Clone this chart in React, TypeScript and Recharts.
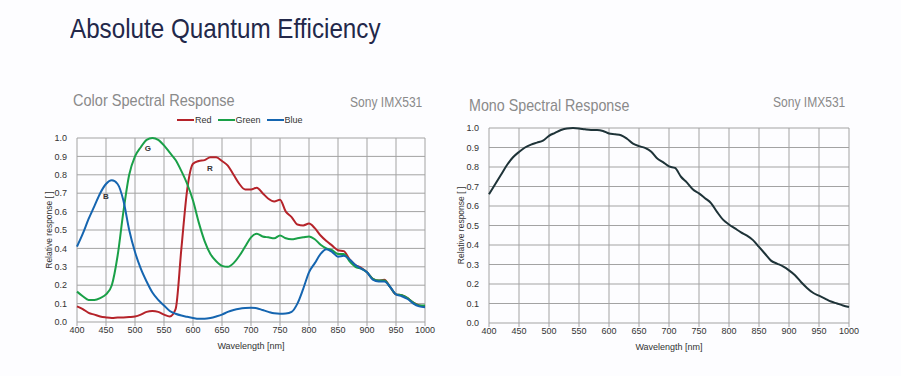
import { LineChart, Line, XAxis, YAxis, CartesianGrid, ReferenceDot } from "recharts";

// wavelength grid (nm)
const wavelengths = [
  400, 410, 420, 430, 440, 450, 460, 470, 480, 490,
  500, 510, 520, 530, 540, 550, 560, 570, 580, 590,
  600, 610, 620, 630, 640, 650, 660, 670, 680, 690,
  700, 710, 720, 730, 740, 750, 760, 770, 780, 790,
  800, 810, 820, 830, 840, 850, 860, 870, 880, 890,
  900, 910, 920, 930, 940, 950, 960, 970, 980, 990, 1000,
];

const redResponse = [
  0.085, 0.07, 0.05, 0.04, 0.03, 0.025, 0.022, 0.024, 0.025, 0.027,
  0.03, 0.04, 0.055, 0.06, 0.055, 0.04, 0.03, 0.07, 0.4, 0.72,
  0.86, 0.875, 0.88, 0.895, 0.895, 0.875, 0.85, 0.8, 0.75, 0.72,
  0.72, 0.73, 0.7, 0.67, 0.655, 0.665, 0.6, 0.57, 0.53, 0.525,
  0.535, 0.51, 0.47, 0.44, 0.415, 0.39, 0.385, 0.34, 0.31, 0.295,
  0.27, 0.235, 0.225, 0.23, 0.19, 0.15, 0.145, 0.13, 0.105, 0.09, 0.085,
];

const greenResponse = [
  0.165, 0.14, 0.12, 0.12, 0.13, 0.15, 0.2, 0.36, 0.6, 0.8,
  0.9, 0.95, 0.99, 1.0, 0.99, 0.96, 0.92, 0.88, 0.82, 0.75,
  0.66, 0.54, 0.44, 0.37, 0.33, 0.305, 0.3, 0.32, 0.36, 0.41,
  0.46, 0.48, 0.465, 0.46, 0.455, 0.47, 0.455, 0.45, 0.455, 0.46,
  0.465, 0.45, 0.42, 0.4, 0.39, 0.37, 0.37, 0.33, 0.3, 0.29,
  0.27, 0.235, 0.225, 0.225, 0.19, 0.15, 0.145, 0.13, 0.105, 0.09, 0.09,
];

const blueResponse = [
  0.41, 0.48, 0.56, 0.63, 0.7, 0.75, 0.77, 0.75, 0.66, 0.5,
  0.38, 0.29, 0.22, 0.16, 0.12, 0.09, 0.06, 0.045, 0.035, 0.028,
  0.022, 0.018, 0.018, 0.022, 0.03, 0.04, 0.055, 0.065, 0.072, 0.076,
  0.078, 0.075, 0.065, 0.055, 0.047, 0.045, 0.046, 0.055, 0.1, 0.18,
  0.27, 0.32, 0.37, 0.395, 0.38, 0.355, 0.36, 0.34, 0.31, 0.29,
  0.27, 0.23, 0.22, 0.22, 0.19, 0.15, 0.14, 0.125, 0.1, 0.085, 0.08,
];

const monoResponse = [
  0.66, 0.71, 0.76, 0.81, 0.85, 0.877, 0.9, 0.915, 0.925, 0.935,
  0.96, 0.975, 0.99, 0.998, 1.0, 0.998, 0.993, 0.99, 0.99, 0.985,
  0.972, 0.968, 0.963, 0.945, 0.92, 0.907, 0.898, 0.88, 0.845, 0.825,
  0.803, 0.795, 0.75, 0.72, 0.685, 0.665, 0.64, 0.615, 0.57, 0.53,
  0.505, 0.485, 0.465, 0.448, 0.425, 0.39, 0.355, 0.32, 0.305, 0.29,
  0.27, 0.245, 0.21, 0.18, 0.155, 0.14, 0.125, 0.11, 0.1, 0.09, 0.082,
];

const xTicks = [400, 450, 500, 550, 600, 650, 700, 750, 800, 850, 900, 950, 1000];
const yTicks = [0, 0.1, 0.2, 0.3, 0.4, 0.5, 0.6, 0.7, 0.8, 0.9, 1.0];

const colorSeries = [
  { key: "red", name: "Red", color: "#b5232a" },
  { key: "green", name: "Green", color: "#1aa048" },
  { key: "blue", name: "Blue", color: "#1565b0" },
];

// curve letters inside the color chart
const curveLetters = [
  { text: "G", wl: 522, value: 0.946 },
  { text: "R", wl: 629, value: 0.837 },
  { text: "B", wl: 450, value: 0.685 },
];

const colorData = wavelengths.map((wl, i) => ({
  wl,
  red: redResponse[i],
  green: greenResponse[i],
  blue: blueResponse[i],
}));

const monoData = wavelengths.map((wl, i) => ({ wl, mono: monoResponse[i] }));

const FONT = "'Liberation Sans', Arial, sans-serif";
const tickStyle = { fontSize: 9, fill: "#333", fontFamily: FONT };
const gridColor = "#a3a3a3";

const renderAxes = () => [
  <CartesianGrid key="g" stroke={gridColor} strokeWidth={1} />,
  <XAxis
    key="x"
    dataKey="wl"
    type="number"
    domain={[400, 1000]}
    ticks={xTicks}
    interval={0}
    axisLine={false}
    tickSize={4}
    tickLine={{ stroke: gridColor }}
    tickMargin={1}
    height={30}
    tick={tickStyle}
    label={{ value: "Wavelength [nm]", position: "insideBottom", offset: 3, style: { fontSize: 9, fill: "#333", fontFamily: FONT } }}
  />,
  <YAxis
    key="y"
    type="number"
    domain={[0, 1]}
    ticks={yTicks}
    interval={0}
    axisLine={false}
    tickLine={false}
    tickMargin={4}
    width={30}
    tick={tickStyle}
    tickFormatter={(v: number) => v.toFixed(1)}
    label={{ value: "Relative response [ ]", angle: -90, position: "insideLeft", offset: 2, style: { fontSize: 8.5, fill: "#333", fontFamily: FONT, textAnchor: "middle" } }}
  />,
];

const titleStyle: React.CSSProperties = {
  position: "absolute",
  fontFamily: FONT,
  color: "#8a8a8a",
  whiteSpace: "nowrap",
  transformOrigin: "left top",
};

const App = () => {
  return (
    <div style={{ position: "absolute", left: 0, top: 0, width: 901, height: 376, background: "#fdfdff", overflow: "hidden", fontFamily: FONT }}>
      <div style={{ ...titleStyle, left: 70, top: 13, fontSize: 28, color: "#23284a", transform: "scaleX(0.865)" }}>
        Absolute Quantum Efficiency
      </div>
      <div style={{ ...titleStyle, left: 73, top: 91, fontSize: 17, transform: "scaleX(0.855)" }}>Color Spectral Response</div>
      <div style={{ ...titleStyle, left: 350, top: 94, fontSize: 14, transform: "scaleX(0.86)" }}>Sony IMX531</div>
      <div style={{ ...titleStyle, left: 469, top: 96, fontSize: 17, transform: "scaleX(0.84)" }}>Mono Spectral Response</div>
      <div style={{ ...titleStyle, left: 773, top: 94, fontSize: 14, transform: "scaleX(0.86)" }}>Sony IMX531</div>

      {/* legend */}
      <div style={{ position: "absolute", left: 177, top: 115, display: "flex", alignItems: "center", fontSize: 9, color: "#333" }}>
        {colorSeries.map((s) => (
          <div key={s.key} style={{ display: "flex", alignItems: "center", marginRight: 6 }}>
            <div style={{ width: 17, height: 2, background: s.color }} />
            <span style={{ marginLeft: 1 }}>{s.name}</span>
          </div>
        ))}
      </div>

      <div style={{ position: "absolute", left: 0, top: 0 }}>
        <LineChart width={440} height={376} data={colorData} margin={{ top: 138, right: 15, bottom: 24, left: 47 }}>
          {renderAxes()}
          {colorSeries.map((s) => (
            <Line key={s.key} type="monotone" dataKey={s.key} stroke={s.color} strokeWidth={2} dot={false} isAnimationActive={false} />
          ))}
          {curveLetters.map((c) => (
            <ReferenceDot
              key={c.text}
              x={c.wl}
              y={c.value}
              r={0}
              stroke="none"
              label={{ value: c.text, position: "center", style: { fontSize: 8, fontWeight: "bold", fill: "#333", fontFamily: FONT } }}
            />
          ))}
        </LineChart>
      </div>

      <div style={{ position: "absolute", left: 440, top: 0 }}>
        <LineChart width={461} height={376} data={monoData} margin={{ top: 128, right: 52, bottom: 23, left: 19 }}>
          {renderAxes()}
          <Line type="monotone" dataKey="mono" stroke="#1e3338" strokeWidth={2} dot={false} isAnimationActive={false} />
        </LineChart>
      </div>
    </div>
  );
};

export default App;
